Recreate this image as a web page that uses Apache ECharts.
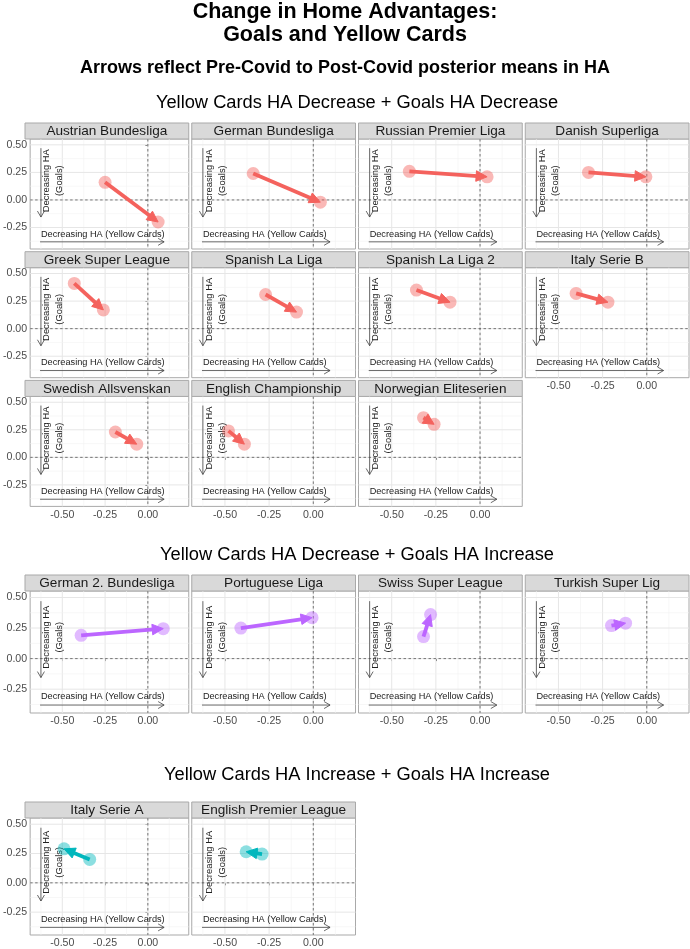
<!DOCTYPE html>
<html><head><meta charset="utf-8">
<script src="https://cdn.jsdelivr.net/npm/echarts@6/dist/echarts.min.js"></script>
<style>html,body{margin:0;padding:0;background:#fff}#c{width:690px;height:949px}</style>
</head><body><div id="c"></div>
<script>
// ---------------- DATA ----------------
const leagues = ['Austrian Bundesliga','German Bundesliga','Russian Premier Liga','Danish Superliga',
  'Greek Super League','Spanish La Liga','Spanish La Liga 2','Italy Serie B',
  'Swedish Allsvenskan','English Championship','Norwegian Eliteserien',
  'German 2. Bundesliga','Portuguese Liga','Swiss Super League','Turkish Super Lig',
  'Italy Serie A','English Premier League'];
const groupIndex = [0,0,0,0,0,0,0,0,0,0,0,1,1,1,1,2,2];
const groupTitles = ['Yellow Cards HA Decrease + Goals HA Decrease',
  'Yellow Cards HA Decrease + Goals HA Increase',
  'Yellow Cards HA Increase + Goals HA Increase'];
// pre-Covid posterior means
const preYellow = [-0.25,-0.34,-0.40,-0.33,-0.43,-0.27,-0.36,-0.40,-0.19,-0.48,-0.32,-0.39,-0.41,-0.32,-0.20,-0.34,-0.29];
const preGoals  = [ 0.16, 0.24, 0.26, 0.25, 0.41, 0.31, 0.35, 0.32, 0.23, 0.24, 0.36, 0.19, 0.25, 0.18, 0.27, 0.20, 0.245];
// post-Covid posterior means
const postYellow = [0.06, 0.04, 0.04,-0.005,-0.26,-0.095,-0.17,-0.22,-0.065,-0.39,-0.26, 0.09,-0.007,-0.28,-0.12,-0.49,-0.38];
const postGoals  = [-0.20,-0.02, 0.21, 0.21, 0.17, 0.15, 0.24, 0.24, 0.12, 0.12, 0.30, 0.245, 0.335, 0.36, 0.29, 0.29, 0.265];
const xTicks = [-0.5,-0.25,0];
const yTicks = [-0.25,0,0.25,0.5];
const xMinor = [-0.625,-0.375,-0.125,0.125];
const yMinor = [-0.375,-0.125,0.125,0.375];
const mainTitle = ['Change in Home Advantages:','Goals and Yellow Cards'];
const subTitle = 'Arrows reflect Pre-Covid to Post-Covid posterior means in HA';
const xAnnot = 'Decreasing HA (Yellow Cards)';
const yAnnot = 'Decreasing HA\n(Goals)';
// annotation anchors (data units)
const hArrowX = [-0.63, 0.095], hArrowY = -0.38;
const vArrowX = -0.625, vArrowY = [0.47, -0.155];
const xAnnotPos = [-0.625, -0.31];
const yAnnotPos = [-0.553, 0.175];

// ---------------- STYLE / LAYOUT ----------------
const FF = '"Liberation Sans", Arial, Helvetica, sans-serif';
const groupColors = ['#F4625D','#BC66FF','#00B7BD'];
const X_RANGE = [-0.688, 0.239], Y_RANGE = [-0.445, 0.553];
const colLeft = [25, 191.75, 358.5, 525.25], panelW = 163.75, stripH = 16;
const secLayout = [
  {titleY: 103, stripTop: [123, 251.7, 380.4], panelH: 110},
  {titleY: 555, stripTop: [575], panelH: 122},
  {titleY: 775, stripTop: [802], panelH: 122}
];
const BORDER = '#A9A9A9';

const grids = [], xAxes = [], yAxes = [], series = [], graphics = [];
function txt(x, y, text, font, extra) {
  return Object.assign({type:'text', x, y, style:{text, font, fill:'#000', align:'center', verticalAlign:'middle', textAlign:'center', textVerticalAlign:'middle'}}, extra || {});
}
graphics.push(txt(345, 12, mainTitle[0], 'bold 21.5px '+FF));
graphics.push(txt(345, 35, mainTitle[1], 'bold 21.5px '+FF));
graphics.push(txt(345, 68, subTitle, 'bold 18px '+FF));
secLayout.forEach((s, g) => graphics.push(txt(357, s.titleY, groupTitles[g], '18.3px '+FF)));

const gridLineData = [
  ...xTicks.map(v => [0, v, 1]), ...xMinor.map(v => [0, v, 0]),
  ...yTicks.map(v => [1, v, 1]), ...yMinor.map(v => [1, v, 0]),
  [0, 0, 2], [1, 0, 2]
];

const counters = [0,0,0];
const groupCounts = [0,0,0];
groupIndex.forEach(g => groupCounts[g]++);

leagues.forEach((name, i) => {
  const g = groupIndex[i];
  const k = counters[g]++;
  const row = Math.floor(k / 4), col = k % 4;
  const L = secLayout[g];
  const sTop = L.stripTop[row];
  const pTop = sTop + stripH;
  const hasX = (k + 4) >= groupCounts[g];
  const hasY = col === 0;
  const color = groupColors[g];

  graphics.push({type:'rect', shape:{x:colLeft[col], y:sTop, width:panelW, height:stripH},
    style:{fill:'#D9D9D9', stroke:BORDER, lineWidth:1}});
  const st = txt(colLeft[col] + panelW/2, sTop + stripH/2 + 0.5, name, '13.6px '+FF);
  st.style.fill = '#1A1A1A';
  graphics.push(st);

  grids.push({left:colLeft[col], top:pTop, width:panelW, height:L.panelH, show:true,
    backgroundColor:'#fff', borderColor:BORDER, borderWidth:1, containLabel:false});
  xAxes.push({gridIndex:i, type:'value', min:X_RANGE[0], max:X_RANGE[1],
    axisLine:{show:false}, splitLine:{show:false},
    axisTick:{show:hasX, customValues:xTicks, length:2.5, lineStyle:{color:'#333', width:0.8}},
    axisLabel:{show:hasX, customValues:xTicks, formatter:v => v.toFixed(2), color:'#4D4D4D', fontSize:10.6, fontFamily:FF, margin:3}});
  yAxes.push({gridIndex:i, type:'value', min:Y_RANGE[0], max:Y_RANGE[1],
    axisLine:{show:false}, splitLine:{show:false},
    axisTick:{show:hasY, customValues:yTicks, length:2.5, lineStyle:{color:'#333', width:0.8}},
    axisLabel:{show:hasY, customValues:yTicks, formatter:v => v.toFixed(2), color:'#4D4D4D', fontSize:10.6, fontFamily:FF, margin:3}});

  // grid lines + dashed reference lines
  series.push({type:'custom', xAxisIndex:i, yAxisIndex:i, silent:true, z:1, data:gridLineData,
    renderItem:(params, api) => {
      const dir = api.value(0), v = api.value(1), kind = api.value(2);
      const cs = params.coordSys;
      let shape;
      if (dir === 0) { const p = api.coord([v, 0]); shape = {x1:p[0], y1:cs.y, x2:p[0], y2:cs.y+cs.height}; }
      else { const p = api.coord([0, v]); shape = {x1:cs.x, y1:p[1], x2:cs.x+cs.width, y2:p[1]}; }
      const style = kind === 2 ? {stroke:'#555', lineWidth:0.8, lineDash:[2.5,2.5]}
        : kind === 1 ? {stroke:'#E6E6E6', lineWidth:1} : {stroke:'#F2F2F2', lineWidth:0.6};
      return {type:'line', shape, style, z2: kind === 2 ? 5 : 1};
    }});

  // annotation arrows and text
  series.push({type:'custom', xAxisIndex:i, yAxisIndex:i, silent:true, z:2, data:[[0,0]],
    renderItem:(params, api) => {
      const h1 = api.coord([hArrowX[0], hArrowY]), h2 = api.coord([hArrowX[1], hArrowY]);
      const v1 = api.coord([vArrowX, vArrowY[0]]), v2 = api.coord([vArrowX, vArrowY[1]]);
      const tx = api.coord(xAnnotPos), ty = api.coord(yAnnotPos);
      const st = {stroke:'#444', lineWidth:0.8, fill:null};
      return {type:'group', children:[
        {type:'line', shape:{x1:h1[0], y1:h1[1], x2:h2[0], y2:h2[1]}, style:st},
        {type:'polyline', shape:{points:[[h2[0]-6, h2[1]-3.5],[h2[0], h2[1]],[h2[0]-6, h2[1]+3.5]]}, style:st},
        {type:'line', shape:{x1:v1[0], y1:v1[1], x2:v2[0], y2:v2[1]}, style:st},
        {type:'polyline', shape:{points:[[v2[0]-3.5, v2[1]-6],[v2[0], v2[1]],[v2[0]+3.5, v2[1]-6]]}, style:st},
        {type:'text', x:tx[0], y:tx[1], style:{text:xAnnot, fill:'#222', font:'9.2px '+FF, align:'left', verticalAlign:'middle', textAlign:'left', textVerticalAlign:'middle'}},
        {type:'text', x:ty[0], y:ty[1], rotation:Math.PI/2, style:{text:yAnnot, fill:'#222', font:'9.4px '+FF, lineHeight:13, align:'center', verticalAlign:'middle', textAlign:'center', textVerticalAlign:'middle'}}
      ]};
    }});

  // pre/post points
  series.push({type:'scatter', xAxisIndex:i, yAxisIndex:i, silent:true, z:3, symbolSize:13,
    itemStyle:{color:color, opacity:0.45},
    data:[[preYellow[i], preGoals[i]], [postYellow[i], postGoals[i]]]});

  // arrow pre -> post
  series.push({type:'custom', xAxisIndex:i, yAxisIndex:i, silent:true, z:4,
    data:[[preYellow[i], preGoals[i], postYellow[i], postGoals[i]]],
    renderItem:(params, api) => {
      const p1 = api.coord([api.value(0), api.value(1)]);
      const p2 = api.coord([api.value(2), api.value(3)]);
      const dx = p2[0]-p1[0], dy = p2[1]-p1[1];
      const len = Math.hypot(dx, dy) || 1;
      const ux = dx/len, uy = dy/len;
      const hl = Math.min(11, len*0.85), hw = 5.3;
      const bx = p2[0]-ux*hl, by = p2[1]-uy*hl;
      return {type:'group', children:[
        {type:'line', shape:{x1:p1[0], y1:p1[1], x2:bx+ux*1.5, y2:by+uy*1.5}, style:{stroke:color, lineWidth:3.8}},
        {type:'polygon', shape:{points:[[p2[0],p2[1]],[bx-uy*hw, by+ux*hw],[bx+uy*hw, by-ux*hw]]},
          style:{fill:color, stroke:color, lineWidth:1, lineJoin:'miter'}}
      ]};
    }});
});

const chart = echarts.init(document.getElementById('c'), null, {renderer:'canvas'});
chart.setOption({
  animation:false,
  backgroundColor:'#fff',
  grid:grids, xAxis:xAxes, yAxis:yAxes, series:series,
  graphic:{elements:graphics}
});
</script></body></html>
